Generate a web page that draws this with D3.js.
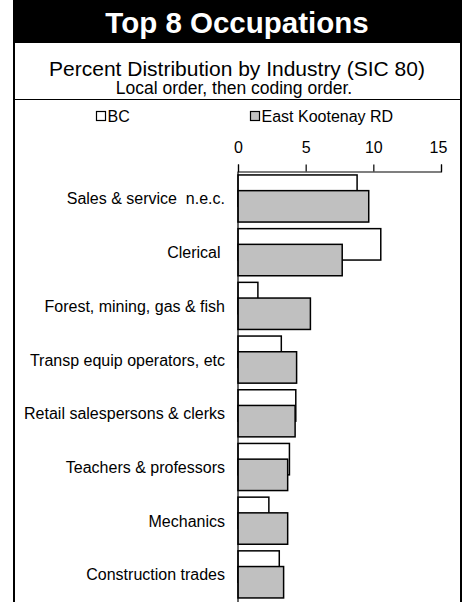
<!DOCTYPE html>
<html>
<head>
<meta charset="utf-8">
<script src="https://cdn.jsdelivr.net/npm/d3@7"></script>
<style>
  body { margin: 0; background: #fff; }
  svg { display: block; font-family: Arial, "Liberation Sans", sans-serif; }
</style>
</head>
<body>
<div id="chart"></div>
<script>
'use strict';

// chart data
var categories = ["Sales & service  n.e.c.", "Clerical ", "Forest, mining, gas & fish",
  "Transp equip operators, etc", "Retail salespersons & clerks", "Teachers & professors",
  "Mechanics", "Construction trades"];
var bcValues = [8.8, 10.55, 1.47, 3.2, 4.27, 3.8, 2.28, 3.05];
var ekValues = [9.66, 7.7, 5.35, 4.33, 4.22, 3.67, 3.67, 3.37];
var seriesNames = ["BC", "East Kootenay RD"];
var xTicks = [0, 5, 10, 15];

var width = 462, height = 602;
var frameL = 14, frameR = 460;
var midX = (frameL + frameR) / 2;

var svg = d3.select("#chart").append("svg")
  .attr("width", width)
  .attr("height", height);

// title bar
svg.append("rect")
  .attr("x", frameL - 1).attr("y", 0)
  .attr("width", width - frameL + 1).attr("height", 43)
  .attr("fill", "#000");
svg.append("text")
  .attr("x", midX).attr("y", 33)
  .attr("text-anchor", "middle")
  .attr("fill", "#fff")
  .attr("font-weight", "bold")
  .attr("font-size", 29.5)
  .text("Top 8 Occupations");

// subtitles
svg.append("text")
  .attr("x", midX).attr("y", 75.5)
  .attr("text-anchor", "middle")
  .attr("font-size", 21)
  .text("Percent Distribution by Industry (SIC 80)");
svg.append("text")
  .attr("x", midX - 3).attr("y", 94)
  .attr("text-anchor", "middle")
  .attr("font-size", 17.5)
  .text("Local order, then coding order.");

// frame lines
svg.append("line")
  .attr("x1", frameL).attr("x2", frameR)
  .attr("y1", 99.5).attr("y2", 99.5)
  .attr("stroke", "#000").attr("stroke-width", 1.2);
svg.append("line")
  .attr("x1", frameL).attr("x2", frameL)
  .attr("y1", 0).attr("y2", height)
  .attr("stroke", "#000").attr("stroke-width", 2);
svg.append("line")
  .attr("x1", frameR + 1).attr("x2", frameR + 1)
  .attr("y1", 0).attr("y2", height)
  .attr("stroke", "#000").attr("stroke-width", 2);

// legend
var legend = svg.append("g").attr("font-size", 16);
var legendX = [96.5, 250.5], fills = ["#fff", "#c0c0c0"];
seriesNames.forEach(function(name, i) {
  legend.append("rect")
    .attr("x", legendX[i]).attr("y", 111.5)
    .attr("width", 9).attr("height", 9)
    .attr("fill", fills[i]).attr("stroke", "#000").attr("stroke-width", 1.2);
  legend.append("text")
    .attr("x", legendX[i] + 11).attr("y", 122)
    .text(name);
});

// scales
var x = d3.scaleLinear().domain([0, 15]).range([238, 441]);
var y = d3.scaleBand().domain(categories)
  .range([171.6, 171.6 + 8 * 53.7])
  .paddingInner(0).paddingOuter(0);
var gap = 3.35, barH = 31.4, shift = 15.7;

// x axis on top
var xAxis = svg.append("g")
  .attr("transform", "translate(0,171.5)")
  .call(d3.axisTop(x).tickValues(xTicks).tickSize(7).tickPadding(12));
xAxis.select(".domain").attr("stroke", "#000").attr("stroke-width", 1.2);
xAxis.selectAll(".tick line").attr("stroke", "#000").attr("stroke-width", 1.2);
xAxis.selectAll(".tick text")
  .attr("font-size", 16).attr("font-family", "Arial, 'Liberation Sans', sans-serif")
  .attr("fill", "#000");
xAxis.selectAll(".tick text").filter(function(d) { return d === 15; })
  .attr("dx", -3);

// BC bars (behind)
svg.append("g").selectAll("rect")
  .data(bcValues)
  .enter().append("rect")
  .attr("x", x(0))
  .attr("y", function(d, i) { return y(categories[i]) + gap; })
  .attr("width", function(d) { return x(d) - x(0); })
  .attr("height", barH)
  .attr("fill", "#fff").attr("stroke", "#000").attr("stroke-width", 1.5);

// East Kootenay bars (front)
svg.append("g").selectAll("rect")
  .data(ekValues)
  .enter().append("rect")
  .attr("x", x(0))
  .attr("y", function(d, i) { return y(categories[i]) + gap + shift; })
  .attr("width", function(d) { return x(d) - x(0); })
  .attr("height", barH)
  .attr("fill", "#c0c0c0").attr("stroke", "#000").attr("stroke-width", 1.5);

// y axis line and category labels
svg.append("line")
  .attr("x1", x(0)).attr("x2", x(0))
  .attr("y1", 171.5).attr("y2", height)
  .attr("stroke", "#000").attr("stroke-width", 1.2);
svg.append("g").selectAll("text")
  .data(categories)
  .enter().append("text")
  .attr("x", 225)
  .attr("y", function(d) { return y(d) + y.bandwidth() / 2 + 6; })
  .attr("text-anchor", "end")
  .attr("font-size", 16)
  .style("white-space", "pre")
  .text(function(d) { return d; });
</script>
</body>
</html>
